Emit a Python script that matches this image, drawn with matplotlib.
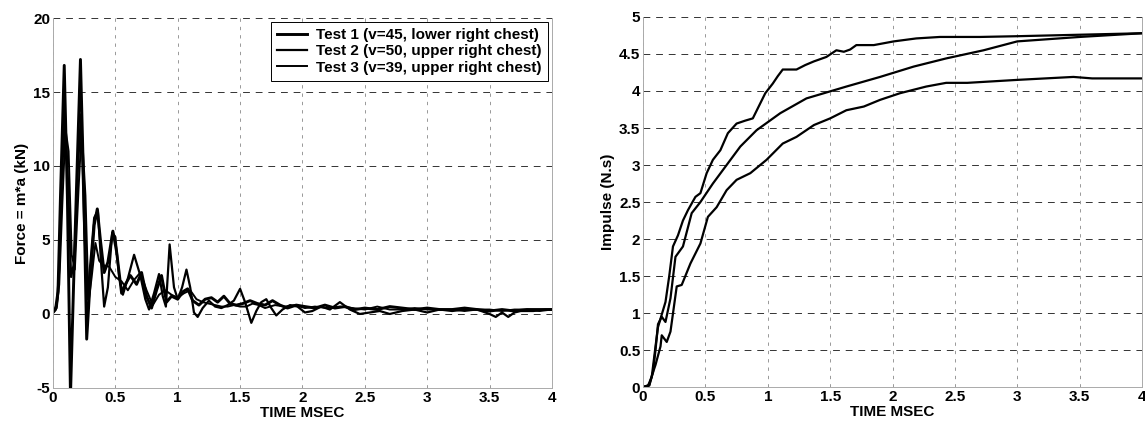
"""Chest impact tests: force history and cumulative impulse."""

import matplotlib
matplotlib.use("Agg")
import matplotlib.pyplot as plt

plt.rcParams.update(
    {
        "font.family": ["Liberation Sans", "DejaVu Sans"],
        "font.weight": "bold",
        "font.size": 11,
        "axes.labelweight": "bold",
    }
)

# ---- force = m*a (kN) vs time (ms) ----
t1 = [0, 0.02, 0.04, 0.06, 0.09, 0.115, 0.14, 0.165, 0.19, 0.22, 0.245, 0.27,
      0.30, 0.33, 0.355, 0.38, 0.41, 0.44, 0.48, 0.51, 0.55, 0.58, 0.62, 0.67,
      0.71, 0.75, 0.79, 0.83, 0.87, 0.91, 0.95, 1.0, 1.04, 1.08, 1.12, 1.17,
      1.22, 1.27, 1.32, 1.37, 1.42, 1.47, 1.52, 1.58, 1.64, 1.70, 1.76, 1.82,
      1.88, 1.95, 2.02, 2.1, 2.18, 2.26, 2.34, 2.42, 2.5, 2.6, 2.7, 2.8, 2.9,
      3.0, 3.1, 3.2, 3.3, 3.4, 3.5, 3.6, 3.7, 3.8, 3.9, 4.0]
f1 = [0.1, 0.3, 1.5, 8.0, 16.8, 8.0, -5.5, 2.0, 9.0, 17.2, 9.0, -1.7,
      2.5, 6.0, 7.1, 5.0, 2.8, 3.5, 5.6, 4.2, 1.4, 2.0, 2.6, 2.0,
      2.8, 1.2, 0.4, 1.6, 2.6, 0.8, 1.2, 1.0, 1.5, 1.7, 0.9, 0.6,
      1.0, 1.1, 0.8, 1.2, 0.7, 0.6, 0.7, 0.9, 0.7, 0.6, 0.9, 0.6,
      0.4, 0.6, 0.5, 0.4, 0.6, 0.4, 0.5, 0.3, 0.4, 0.3, 0.5, 0.4, 0.3,
      0.4, 0.3, 0.3, 0.4, 0.3, 0.2, 0.3, 0.2, 0.3, 0.3, 0.3]

t2 = [0, 0.03, 0.05, 0.07, 0.095, 0.12, 0.145, 0.17, 0.20, 0.225, 0.25, 0.275,
      0.30, 0.33, 0.36, 0.385, 0.41, 0.44, 0.475, 0.50, 0.53, 0.56, 0.60, 0.65,
      0.70, 0.74, 0.77, 0.81, 0.85, 0.88, 0.905, 0.935, 0.97, 1.0, 1.035, 1.07,
      1.10, 1.13, 1.16, 1.2, 1.25, 1.3, 1.35, 1.4, 1.45, 1.5, 1.54, 1.59,
      1.63, 1.67, 1.71, 1.75, 1.79, 1.84, 1.9, 1.96, 2.02, 2.08, 2.15, 2.22,
      2.3, 2.38, 2.46, 2.54, 2.62, 2.7, 2.8, 2.9, 3.0, 3.1, 3.2, 3.3,
      3.4, 3.5, 3.55, 3.6, 3.65, 3.7, 3.75, 3.85, 3.95, 4.0]
f2 = [0.1, 0.6, 3.0, 9.0, 13.5, 9.0, 2.5, 3.5, 10.0, 13.5, 6.0, 1.0,
      3.5, 6.5, 7.0, 3.5, 0.5, 1.8, 5.5, 5.2, 2.5, 1.3, 2.4, 4.0,
      2.6, 1.0, 0.3, 1.4, 2.7, 1.2, 0.5, 4.7, 1.8, 1.0, 1.8, 3.0,
      1.8, 0.1, -0.2, 0.4, 0.9, 0.5, 0.4, 0.6, 0.9, 1.7, 0.8, -0.6,
      0.2, 0.8, 1.0, 0.4, -0.1, 0.3, 0.6, 0.5, 0.1, 0.2, 0.5, 0.3,
      0.8, 0.3, 0.0, 0.1, 0.2, 0.0, 0.2, 0.3, 0.1, 0.3, 0.2, 0.3,
      0.3, 0.0, -0.2, 0.1, -0.2, 0.1, 0.2, 0.2, 0.3, 0.3]

t3 = [0, 0.03, 0.05, 0.075, 0.10, 0.125, 0.15, 0.175, 0.205, 0.23, 0.26, 0.285,
      0.31, 0.34, 0.37, 0.40, 0.45, 0.50, 0.55, 0.60, 0.65, 0.70, 0.75, 0.80,
      0.85, 0.90, 0.95, 1.0, 1.05, 1.10, 1.15, 1.2, 1.25, 1.3, 1.35, 1.4,
      1.45, 1.5, 1.55, 1.6, 1.65, 1.7, 1.78, 1.86, 1.94, 2.02, 2.1, 2.2,
      2.3, 2.4, 2.5, 2.6, 2.7, 2.8, 2.9, 3.0, 3.1, 3.2, 3.3, 3.4,
      3.5, 3.6, 3.7, 3.8, 3.9, 4.0]
f3 = [0.1, 0.4, 2.0, 7.5, 12.5, 11.0, 4.0, 3.0, 8.5, 12.5, 8.0, 0.8,
      2.5, 4.8, 3.6, 3.3, 3.2, 2.5, 2.2, 1.6, 2.3, 2.8, 1.6, 0.6,
      1.3, 1.6, 1.3, 1.1, 1.4, 1.6, 1.0, 0.8, 0.7, 0.6, 0.5, 0.5,
      0.6, 0.5, 0.5, 0.7, 0.6, 0.4, 0.6, 0.5, 0.6, 0.4, 0.5, 0.4,
      0.5, 0.4, 0.3, 0.5, 0.3, 0.3, 0.4, 0.3, 0.3, 0.3, 0.2, 0.3,
      0.3, 0.2, 0.3, 0.3, 0.2, 0.3]

# ---- impulse (N.s) vs time (ms) ----
ti1 = [0, 0.04, 0.07, 0.10, 0.12, 0.15, 0.18, 0.21, 0.24, 0.28, 0.32, 0.36,
       0.42, 0.46, 0.51, 0.56, 0.62, 0.68, 0.75, 0.82, 0.88, 0.93, 0.98, 1.04,
       1.08, 1.12, 1.23, 1.30, 1.37, 1.47, 1.55, 1.61, 1.66, 1.71, 1.85, 2.01,
       2.19, 2.38, 2.7, 3.0, 3.5, 4.0]
imp1 = [0, 0.02, 0.14, 0.55, 0.81, 0.98, 1.15, 1.5, 1.9, 2.05, 2.25, 2.39,
        2.57, 2.62, 2.89, 3.07, 3.2, 3.43, 3.56, 3.6, 3.63, 3.8, 3.97, 4.1,
        4.2, 4.29, 4.29, 4.35, 4.40, 4.46, 4.55, 4.53, 4.56, 4.62, 4.62, 4.67,
        4.71, 4.73, 4.73, 4.74, 4.76, 4.78]

ti2 = [0, 0.05, 0.08, 0.10, 0.12, 0.15, 0.18, 0.22, 0.26, 0.32, 0.39, 0.46,
       0.56, 0.67, 0.78, 0.91, 1.10, 1.31, 1.63, 1.90, 2.17, 2.43, 2.73, 3.0,
       3.5, 4.0]
imp2 = [0, 0.02, 0.2, 0.5, 0.85, 0.95, 0.88, 1.2, 1.76, 1.9, 2.35, 2.5,
        2.75, 3.0, 3.25, 3.47, 3.70, 3.90, 4.06, 4.19, 4.33, 4.44, 4.55, 4.67,
        4.73, 4.78]

ti3 = [0, 0.05, 0.07, 0.10, 0.14, 0.15, 0.19, 0.22, 0.27, 0.31, 0.38, 0.46,
       0.52, 0.59, 0.67, 0.75, 0.86, 0.99, 1.12, 1.23, 1.37, 1.50, 1.63, 1.77,
       1.90, 2.06, 2.27, 2.43, 2.6, 3.0, 3.45, 3.6, 4.0]
imp3 = [0, 0.03, 0.15, 0.3, 0.55, 0.7, 0.61, 0.75, 1.36, 1.38, 1.67, 1.94,
        2.30, 2.43, 2.66, 2.8, 2.89, 3.07, 3.29, 3.38, 3.54, 3.63, 3.74, 3.79,
        3.88, 3.97, 4.06, 4.11, 4.11, 4.15, 4.19, 4.17, 4.17]

labels = ["Test 1 (v=45, lower right chest)",
          "Test 2 (v=50, upper right chest)",
          "Test 3 (v=39, upper right chest)"]
widths = [2.1, 1.6, 1.4]

x_ticks = [0, 0.5, 1, 1.5, 2, 2.5, 3, 3.5, 4]
x_ticklabels = ["0", "0.5", "1", "1.5", "2", "2.5", "3", "3.5", "4"]
force_ticks = [-5, 0, 5, 10, 15, 20]
imp_ticks = [0, 0.5, 1, 1.5, 2, 2.5, 3, 3.5, 4, 4.5, 5]
imp_ticklabels = ["0", "0.5", "1", "1.5", "2", "2.5", "3", "3.5", "4", "4.5", "5"]


def _style(ax):
    ax.set_xlim(0, 4)
    ax.set_xticks(x_ticks, x_ticklabels)
    ax.tick_params(length=0, pad=2, labelsize=11)
    for s in ("left", "bottom", "right"):
        ax.spines[s].set_color("#aaaaaa")
        ax.spines[s].set_linewidth(0.7)
    ax.spines["top"].set_visible(False)
    ax.yaxis.grid(True, color="#333333", lw=0.7, ls=(0, (7, 6)))
    ax.xaxis.grid(True, color="#888888", lw=0.6, ls=(0, (4, 6)))
    ax.set_axisbelow(True)
    ax.set_xlabel("TIME MSEC", fontsize=11, labelpad=1)


fig = plt.figure(figsize=(11.45, 4.24), dpi=100)
ax1 = fig.add_axes([0.0463, 0.085, 0.4357, 0.8725])
ax2 = fig.add_axes([0.5616, 0.087, 0.4358, 0.873])

for t, f, lab, lw in zip([t1, t2, t3], [f1, f2, f3], labels, widths):
    ax1.plot(t, f, color="black", lw=lw, label=lab)
_style(ax1)
ax1.set_ylim(-5, 20)
ax1.set_yticks(force_ticks, [str(v) for v in force_ticks])
ax1.set_ylabel("Force = m*a (kN)", fontsize=11, labelpad=3)
leg = ax1.legend(loc="upper right", fontsize=11, frameon=True, fancybox=False,
                 edgecolor="black", framealpha=1, handlelength=2.0,
                 handletextpad=0.6, borderaxespad=0.25, borderpad=0.4,
                 labelspacing=0.15)
leg.get_frame().set_linewidth(0.7)

for t, v in zip([ti1, ti2, ti3], [imp1, imp2, imp3]):
    ax2.plot(t, v, color="black", lw=1.6)
_style(ax2)
ax2.set_ylim(0, 5)
ax2.set_yticks(imp_ticks, imp_ticklabels)
ax2.set_ylabel("Impulse (N.s)", fontsize=11, labelpad=3)

fig.savefig("out.png", dpi=100)
